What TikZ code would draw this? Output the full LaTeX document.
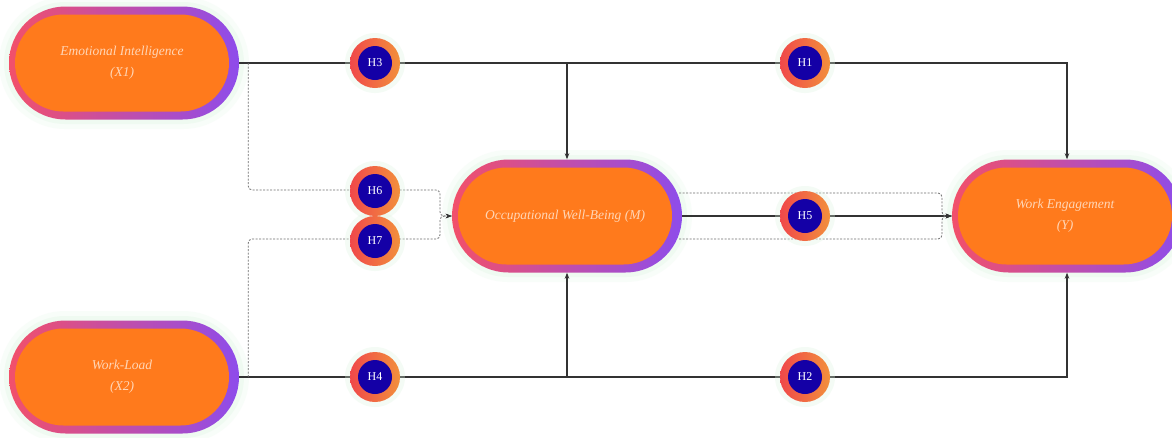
\documentclass[tikz,border=0pt]{standalone}
\usepackage{fontspec}
\setmainfont{Liberation Serif}
\usetikzlibrary{shapes.misc,arrows.meta}
\definecolor{ringL}{HTML}{F2506A}
\definecolor{ringR}{HTML}{8E4CEB}
\definecolor{fillO}{HTML}{FF7A1C}
\definecolor{hBlue}{HTML}{1400A6}
\definecolor{hL}{HTML}{F0484A}
\definecolor{hR}{HTML}{F2903C}
\definecolor{txt}{HTML}{FFD6B6}
\definecolor{lineC}{HTML}{333333}
\definecolor{dashC}{HTML}{6E6E6E}
\definecolor{glowC}{HTML}{DDF4E0}
\tikzset{
 varouter/.style={rounded rectangle, minimum width=230pt, minimum height=113pt, inner sep=0pt, left color=ringL, right color=ringR, draw=none},
 varinner/.style={rounded rectangle, minimum width=214pt, minimum height=97pt, inner sep=0pt, fill=fillO, text=txt, font=\fontsize{13.5}{21}\selectfont\itshape, align=center},
 glowbig/.style={rounded rectangle, minimum width=250pt, minimum height=132pt, inner sep=0pt, fill=glowC, opacity=0.18, draw=none},
 glowmid/.style={rounded rectangle, minimum width=240pt, minimum height=122pt, inner sep=0pt, fill=glowC, opacity=0.3, draw=none},
 hglow/.style={circle, minimum size=60pt, inner sep=0pt, fill=glowC, opacity=0.3, draw=none},
 hring/.style={circle, minimum size=50pt, inner sep=0pt, left color=hL, right color=hR, draw=none},
 hcore/.style={circle, minimum size=34pt, inner sep=0pt, fill=hBlue, text=white, font=\fontsize{12}{12}\selectfont},
 solidln/.style={draw=lineC, line width=1.1pt},
 dashln/.style={draw=dashC, line width=0.8pt, dash pattern=on 2pt off 1.5pt, rounded corners=4pt},
 arr/.style={-{Stealth[length=6pt,width=4.5pt]}},
 darr/.style={-{Stealth[length=6pt,width=4.5pt,color=lineC,sep=0pt]}},
}
\begin{document}
\begin{tikzpicture}[x=1pt,y=-1pt]
\useasboundingbox (0,0) rectangle (1172,437);
\fill[white] (0,0) rectangle (1172,437);
% glows
\foreach \n/\p in {gX1/{(124,63)}, gX2/{(124,377)}, gM/{(567,216)}, gY/{(1067,216)}}{
  \node[glowbig] (\n a) at \p {};
  \node[glowmid] (\n b) at \p {};
}
% stadium nodes
\node[varouter] (X1) at (124,63) {};
\node[varinner] (X1i) at ([xshift=-2pt]X1.center) {Emotional Intelligence\\(X1)};
\node[varouter] (X2) at (124,377) {};
\node[varinner] (X2i) at ([xshift=-2pt]X2.center) {Work-Load\\(X2)};
\node[varouter] (M) at (567,216) {};
\node[varinner] (Mi) at ([xshift=-2pt]M.center) {Occupational Well-Being (M)};
\node[varouter] (Y) at (1067,216) {};
\node[varinner] (Yi) at ([xshift=-2pt]Y.center) {Work Engagement\\(Y)};
% coordinates for dashed routes
\coordinate (a1) at ([xshift=9pt]X1.east);
\coordinate (a2) at ([xshift=9pt]X2.east);
\coordinate (c6) at (440,190);
\coordinate (c7) at (440,239);
\coordinate (r1) at (679,193);
\coordinate (r2) at (679,239);
\coordinate (k1) at (942,193);
\coordinate (k2) at (942,239);
\coordinate (p6) at (375,190);
\coordinate (p7) at (375,239);
% solid connectors
\draw[solidln,arr] (X1.east) -| (Y.north);
\draw[solidln,arr] (X1.east -| M.north) -- (M.north);
\draw[solidln,arr] (X2.east) -| (Y.south);
\draw[solidln,arr] (X2.east -| M.south) -- (M.south);
\draw[solidln,arr] (M.east) -- (Y.west);
% dashed connectors
\draw[dashln,darr] (a1) |- (p6) -- (c6) -- (c6 |- M.west) -- (M.west);
\draw[dashln,darr] (a2) |- (p7) -- (c7) -- (c7 |- M.west) -- (M.west);
\draw[dashln,darr] (r1) -- (k1) -- (k1 |- Y.west) -- (Y.west);
\draw[dashln,darr] (r2) -- (k2) -- (k2 |- Y.west) -- (Y.west);
% hypothesis badges
\foreach \h/\p in {H3/{(375,63)}, H1/{(805,63)}, H6/{(375,191)}, H7/{(375,241)}, H5/{(805,216)}, H4/{(375,377)}, H2/{(805,377)}}{
  \node[hglow] (g\h) at \p {};
}
\foreach \h/\p in {H3/{(375,63)}, H1/{(805,63)}, H6/{(375,191)}, H7/{(375,241)}, H5/{(805,216)}, H4/{(375,377)}, H2/{(805,377)}}{
  \node[hring] (r\h) at \p {};
  \node[hcore] (\h) at \p {\h};
}
\end{tikzpicture}
\end{document}
